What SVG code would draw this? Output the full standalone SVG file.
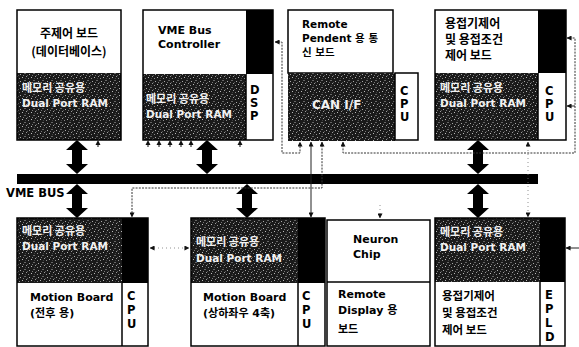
<svg xmlns="http://www.w3.org/2000/svg" width="579" height="347" viewBox="0 0 579 347">
<defs>
<pattern id="tex" width="9" height="7" patternUnits="userSpaceOnUse">
<rect width="9" height="7" fill="#1a1a1a"/>
<rect x="1" y="1" width="1" height="1" fill="#8a8a8a"/>
<rect x="4" y="0" width="1" height="1" fill="#bbb"/>
<rect x="6" y="3" width="2" height="1" fill="#666"/>
<rect x="2" y="4" width="1" height="1" fill="#aaa"/>
<rect x="5" y="5" width="1" height="1" fill="#777"/>
<rect x="8" y="6" width="1" height="1" fill="#999"/>
<rect x="0" y="5" width="1" height="1" fill="#555"/>
<rect x="7" y="1" width="1" height="1" fill="#444"/>
</pattern>
<marker id="ah" viewBox="0 0 6 6" refX="5.5" refY="3" markerWidth="5" markerHeight="5" orient="auto-start-reverse" markerUnits="userSpaceOnUse">
<path d="M0,0 L6,3 L0,6 z" fill="#111"/>
</marker>
<path id="dbl" d="M0,0 L11,10 L5,10 L5,24 L11,24 L0,34 L-11,24 L-5,24 L-5,10 L-11,10 Z" fill="#000"/>
<path id="pin" d="M-2.5,5 L0,0 L2.5,5 Z M-0.5,5 L0.5,5 L0.5,7 L-0.5,7 Z" fill="#111"/>
</defs>
<style>
.w{fill:#fff}
.k{fill:#000}
.d{fill:url(#tex)}
.o{fill:none;stroke:#000;stroke-width:1.5}
.kr{font-family:"Noto Sans CJK KR","DejaVu Sans",sans-serif;font-weight:bold;font-size:12px;fill:#000}
.la{font-family:"DejaVu Sans","Noto Sans CJK KR",sans-serif;font-weight:bold;font-size:11px;fill:#000}
.cp{font-family:"DejaVu Sans",sans-serif;font-weight:bold;font-size:11.5px;fill:#000}
.rk{font-family:"Noto Sans CJK KR",sans-serif;font-weight:bold;font-size:11px;fill:#f2f2f2}
.rl{font-family:"DejaVu Sans",sans-serif;font-weight:bold;font-size:10.5px;fill:#f2f2f2}
.dl{fill:none;stroke:#333;stroke-width:1;stroke-dasharray:2 1.2}
.fl{fill:none;stroke:#777;stroke-width:0.8;stroke-dasharray:1 3}
.sl{fill:none;stroke:#222;stroke-width:1}
</style>
<rect width="579" height="347" fill="#fff"/>

<g id="bus">
<rect x="17" y="174" width="521" height="10" class="k"/>
<text x="6" y="197" class="la" style="font-size:11.5px">VME BUS</text>
</g>

<g id="n1">
<rect x="17" y="10" width="104" height="63" class="w"/>
<rect x="17" y="73" width="104" height="67" class="d"/>
<rect x="17" y="10" width="104" height="130" class="o"/>
<text x="69" y="38" class="kr" text-anchor="middle">주제어 보드</text>
<text x="69" y="56" class="kr" text-anchor="middle">(데이터베이스)</text>
<text x="22" y="92" class="rk">메모리 공유용</text>
<text x="22" y="107" class="rl">Dual Port RAM</text>
</g>

<g id="n2">
<rect x="143" y="10" width="103" height="64" class="w"/>
<rect x="246" y="10" width="27" height="64" class="k"/>
<rect x="143" y="74" width="103" height="66" class="d"/>
<rect x="246" y="74" width="27" height="66" class="w"/>
<rect x="143" y="10" width="130" height="130" class="o"/>
<line x1="246" y1="74" x2="246" y2="140" stroke="#000" stroke-width="1.5"/>
<text x="158" y="34" class="la">VME Bus</text>
<text x="158" y="48" class="la">Controller</text>
<text x="146" y="103" class="rk">메모리 공유용</text>
<text x="146" y="118" class="rl">Dual Port RAM</text>
<text x="250" y="94" class="cp">D</text>
<text x="250" y="107" class="cp">S</text>
<text x="250" y="120" class="cp">P</text>
</g>

<g id="n3">
<rect x="288" y="10" width="105" height="63" class="w"/>
<rect x="288" y="10" width="105" height="63" class="o"/>
<rect x="288" y="73" width="107" height="68" class="d"/>
<rect x="395" y="73" width="23" height="67" class="w"/>
<rect x="395" y="73" width="23" height="67" class="o"/>
<text x="302" y="28" class="la" style="font-size:10.5px">Remote</text>
<text x="302" y="42" class="la" style="font-size:10.5px">Pendent 용 통</text>
<text x="302" y="56" class="la" style="font-size:10.5px">신 보드</text>
<text x="312" y="109" class="rl" style="font-size:12px">CAN I/F</text>
<text x="400" y="95" class="cp">C</text>
<text x="400" y="108" class="cp">P</text>
<text x="400" y="121" class="cp">U</text>
</g>

<g id="n4">
<rect x="435" y="10" width="103" height="63" class="w"/>
<rect x="538" y="10" width="28" height="63" class="k"/>
<rect x="435" y="73" width="103" height="67" class="d"/>
<rect x="538" y="73" width="28" height="67" class="w"/>
<rect x="435" y="10" width="131" height="130" class="o"/>
<line x1="538" y1="73" x2="538" y2="140" stroke="#000" stroke-width="1.5"/>
<text x="445" y="28" class="kr">용접기제어</text>
<text x="445" y="44" class="kr">및 용접조건</text>
<text x="445" y="60" class="kr">제어 보드</text>
<text x="440" y="92" class="rk">메모리 공유용</text>
<text x="440" y="107" class="rl">Dual Port RAM</text>
<text x="545" y="95" class="cp">C</text>
<text x="545" y="108" class="cp">P</text>
<text x="545" y="121" class="cp">U</text>
</g>

<g id="b1">
<rect x="17" y="218" width="105" height="65" class="d"/>
<rect x="122" y="218" width="26" height="65" class="k"/>
<rect x="17" y="283" width="105" height="63" class="w"/>
<rect x="122" y="283" width="26" height="63" class="w"/>
<rect x="17" y="218" width="131" height="128" class="o"/>
<line x1="122" y1="283" x2="122" y2="346" stroke="#000" stroke-width="1.5"/>
<text x="22" y="235" class="rk">메모리 공유용</text>
<text x="22" y="250" class="rl">Dual Port RAM</text>
<text x="30" y="301" class="la">Motion Board</text>
<text x="30" y="317" class="la">(전후 용)</text>
<text x="127" y="300" class="cp">C</text>
<text x="127" y="314" class="cp">P</text>
<text x="127" y="328" class="cp">U</text>
</g>

<g id="b2">
<rect x="191" y="218" width="107" height="65" class="d"/>
<rect x="298" y="218" width="27" height="65" class="k"/>
<rect x="191" y="283" width="107" height="63" class="w"/>
<rect x="298" y="283" width="27" height="63" class="w"/>
<rect x="191" y="218" width="134" height="128" class="o"/>
<line x1="298" y1="283" x2="298" y2="346" stroke="#000" stroke-width="1.5"/>
<text x="196" y="246" class="rk">메모리 공유용</text>
<text x="196" y="262" class="rl">Dual Port RAM</text>
<text x="203" y="301" class="la">Motion Board</text>
<text x="203" y="317" class="la">(상하좌우 4축)</text>
<text x="302" y="300" class="cp">C</text>
<text x="302" y="314" class="cp">P</text>
<text x="302" y="328" class="cp">U</text>
</g>

<g id="b3">
<rect x="327" y="220" width="103" height="126" class="w"/>
<rect x="327" y="220" width="103" height="126" class="o"/>
<line x1="327" y1="282" x2="430" y2="282" stroke="#000" stroke-width="1.5"/>
<text x="353" y="243" class="la">Neuron</text>
<text x="353" y="258" class="la">Chip</text>
<text x="338" y="298" class="la">Remote</text>
<text x="338" y="314" class="la">Display 용</text>
<text x="338" y="333" class="la">보드</text>
</g>

<g id="b4">
<rect x="435" y="218" width="105" height="64" class="d"/>
<rect x="540" y="218" width="25" height="64" class="k"/>
<rect x="435" y="282" width="105" height="64" class="w"/>
<rect x="540" y="282" width="25" height="64" class="w"/>
<rect x="435" y="218" width="130" height="128" class="o"/>
<line x1="540" y1="282" x2="540" y2="346" stroke="#000" stroke-width="1.5"/>
<text x="440" y="236" class="rk">메모리 공유용</text>
<text x="440" y="251" class="rl">Dual Port RAM</text>
<text x="442" y="300" class="kr" style="font-size:11.5px">용접기제어</text>
<text x="442" y="317" class="kr" style="font-size:11.5px">및 용접조건</text>
<text x="442" y="334" class="kr" style="font-size:11.5px">제어 보드</text>
<text x="545" y="299" class="cp">E</text>
<text x="545" y="313" class="cp">P</text>
<text x="545" y="327" class="cp">L</text>
<text x="545" y="341" class="cp">D</text>
</g>

<g id="connectors">
<use href="#dbl" x="77" y="140"/>
<use href="#dbl" x="207" y="140"/>
<use href="#dbl" x="478" y="140"/>
<use href="#dbl" x="77" y="184"/>
<use href="#dbl" x="247" y="184"/>
<use href="#dbl" x="478" y="184"/>

<use href="#pin" x="98" y="140"/>
<use href="#pin" x="148" y="140"/>
<use href="#pin" x="159" y="140"/>
<use href="#pin" x="170" y="140"/>
<use href="#pin" x="181" y="140"/>
<use href="#pin" x="191" y="140"/>
<use href="#pin" x="240" y="140"/>

<path class="dl" d="M275,42 L282,42 L282,153 L300,153 L300,142" marker-start="url(#ah)" marker-end="url(#ah)"/>
<path class="sl" d="M311,142 L311,217" marker-start="url(#ah)" marker-end="url(#ah)"/>
<path class="dl" d="M322,142 L322,188 L132,188 L132,217" marker-start="url(#ah)" marker-end="url(#ah)"/>
<path class="dl" d="M343,142 L343,153 L575,153 L575,38 L567,38" marker-start="url(#ah)" marker-end="url(#ah)"/>
<path class="sl" d="M575,106 L567,106" marker-end="url(#ah)"/>
<path class="sl" d="M579,248 L566,248" marker-end="url(#ah)"/>
<path class="fl" d="M528,142 L528,217" marker-start="url(#ah)" marker-end="url(#ah)"/>
<path class="fl" d="M380,205 L380,218" marker-end="url(#ah)"/>
<path class="fl" d="M150,248 L189,248" marker-start="url(#ah)" marker-end="url(#ah)"/>
</g>
</svg>
